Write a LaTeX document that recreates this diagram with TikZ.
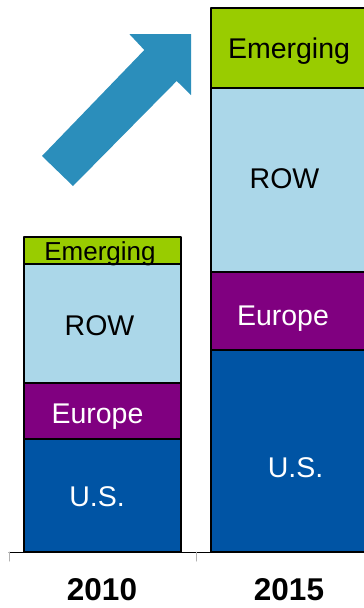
\documentclass[tikz,border=0pt]{standalone}
\usepackage{fontspec}
\setmainfont{Liberation Sans}
\usetikzlibrary{arrows}
\usetikzlibrary{positioning}
\definecolor{emerg}{HTML}{99CC00}
\definecolor{rowblue}{HTML}{ABD7E9}
\definecolor{europ}{HTML}{800080}
\definecolor{usblue}{HTML}{0054A4}
\definecolor{arrowblue}{HTML}{2B8EBB}
\begin{document}
\begin{tikzpicture}[line cap=round,line join=round,x=1pt,y=-1pt,
  seg/.style={draw=black,line width=1.3pt},
  lab/.style={anchor=base,inner sep=0pt,font=\fontsize{28.5}{30}\selectfont},
  yearlab/.style={anchor=base,inner sep=0pt,font=\fontsize{31.5}{33}\selectfont\bfseries}]
\useasboundingbox (0,0) rectangle (364,608);
\clip (0,0) rectangle (364,608);
% axis
\coordinate (axl) at (9,552);
\coordinate (axm) at (196,552);
\coordinate (axr) at (364,552);
\draw [line width=1pt] (axl)-- (axr);
\draw [line width=1pt,gray!60] (axl)-- ++(0,9);
\draw [line width=1pt,gray!60] (axm)-- ++(0,9);
% 2010
\filldraw [seg,fill=usblue] (24,439) rectangle (181,552);
\filldraw [seg,fill=europ] (24,383) rectangle (181,439);
\filldraw [seg,fill=rowblue] (24,264) rectangle (181,383);
\filldraw [seg,fill=emerg] (24,237) rectangle (181,264);
\node [lab,text=white] (us10) at (97,506) {U.S.};
\node [lab,text=white] (eu10) at (97.5,423) {Europe};
\node [lab] (row10) at (99.5,335) {ROW};
\node [lab,font=\fontsize{26}{28}\selectfont] (em10) at (100,260) {Emerging};
% 2015
\filldraw [seg,fill=usblue] (211,350) rectangle (368,552);
\filldraw [seg,fill=europ] (211,272) rectangle (368,350);
\filldraw [seg,fill=rowblue] (211,88) rectangle (368,272);
\filldraw [seg,fill=emerg] (211,8) rectangle (368,88);
\node [lab,text=white] (us15) at (295.5,477) {U.S.};
\node [lab,text=white] (eu15) at (283,325) {Europe};
\node [lab] (row15) at (284.5,188) {ROW};
\node [lab] (em15) at (289,58) {Emerging};
% years
\node [yearlab] (y10) at (102,600) {2010};
\node [yearlab] (y15) at (289,600) {2015};
% growth arrow
\fill [arrowblue] (42,156)-- (144.3,50)-- (129.3,34)-- (191,34)-- (191,95)-- (176.7,81)-- (73,186)-- cycle;
\end{tikzpicture}
\end{document}
